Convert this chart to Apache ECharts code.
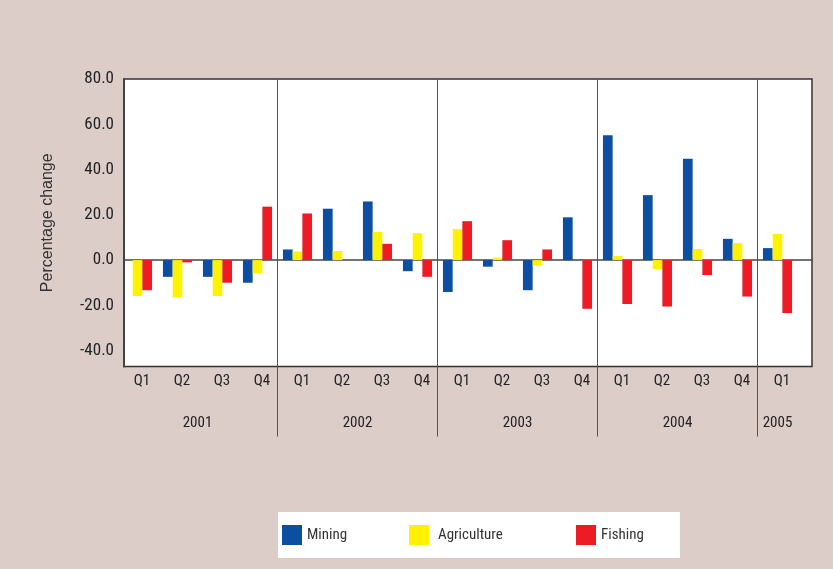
<!DOCTYPE html>
<html>
<head>
<meta charset="utf-8">
<script src="https://cdn.jsdelivr.net/npm/echarts@6/dist/echarts.min.js"></script>
<style>
html,body{margin:0;padding:0;background:#ddcdc9;}
#chart{width:833px;height:569px;}
</style>
</head>
<body>
<div id="chart"></div>
<script>
// ---- data ----
const quarters = ['Q1','Q2','Q3','Q4','Q1','Q2','Q3','Q4','Q1','Q2','Q3','Q4','Q1','Q2','Q3','Q4','Q1'];
const years = ['2001','2002','2003','2004','2005'];
const quartersPerYear = [4,4,4,4,1];
const mining      = [0,-7.4,-7.4,-10.0, 4.7,22.7,25.9,-4.9, -14.1,-2.9,-13.3,18.9, 55.2,28.7,44.8,9.4, 5.3];
const agriculture = [-15.9,-16.5,-15.9,-5.9, 3.8,4.0,12.4,11.9, 13.7,1.0,-2.5,0, 1.8,-4.0,4.9,7.5, 11.6];
const fishing     = [-13.3,-1.0,-10.0,23.6, 20.6,0,7.2,-7.4, 17.2,8.8,4.7,-21.5, -19.4,-20.5,-6.6,-16.1, -23.4];
const yTicks = [-40,-20,0,20,40,60,80];
const yMin = -47, yMax = 80;

// derived positions for year labels and year separators
const yearPos = [], yearSeps = [];
let acc = 0;
quartersPerYear.forEach((n, i) => {
  yearPos.push(acc + n / 2 - 0.5);
  acc += n;
  if (i < quartersPerYear.length - 1) yearSeps.push(acc - 0.5);
});

const narrow = "'Roboto Condensed','Liberation Sans Narrow','Arial Narrow',sans-serif";
const regular = "'Liberation Sans',Arial,sans-serif";

const chart = echarts.init(document.getElementById('chart'), null, {renderer: 'canvas'});
chart.setOption({
  backgroundColor: '#ddcdc9',
  animation: false,
  graphic: [{
    type: 'rect', left: 278, top: 512, z: -1,
    shape: {width: 402, height: 46},
    style: {fill: '#ffffff'}
  }],
  legend: [
    {data: ['Mining'], left: 282, top: 525, padding: 0, itemWidth: 20, itemHeight: 20, icon: 'rect',
     textStyle: {fontFamily: narrow, fontSize: 15, color: '#333'}},
    {data: ['Agriculture'], left: 409, top: 525, padding: 0, itemWidth: 20, itemHeight: 20, icon: 'rect',
     textStyle: {fontFamily: narrow, fontSize: 15, color: '#333', padding: [0,0,0,4]}},
    {data: ['Fishing'], left: 576, top: 525, padding: 0, itemWidth: 20, itemHeight: 20, icon: 'rect',
     textStyle: {fontFamily: narrow, fontSize: 15, color: '#333'}}
  ],
  grid: [
    {left: 124, right: 21, top: 79, bottom: 202.5, show: true, backgroundColor: '#ffffff',
     borderColor: '#333', borderWidth: 1.5},
    {left: 117.5, right: 35.5, top: 79, bottom: 202.5}
  ],
  xAxis: [
    {gridIndex: 0, type: 'value', min: 0, max: 1,
     axisLine: {onZero: true, lineStyle: {color: '#444', width: 1.5}},
     axisTick: {show: false}, axisLabel: {show: false}, splitLine: {show: false}},
    {gridIndex: 1, type: 'category', data: quarters,
     axisLine: {show: false, onZero: false},
     axisTick: {show: false}, splitLine: {show: false},
     axisLabel: {interval: 0, margin: 7, fontFamily: narrow, fontSize: 15, color: '#222', padding: [0,0,0,9]}},
    {gridIndex: 1, type: 'value', position: 'bottom', min: -0.5, max: 16.5, z: 3,
     axisLine: {show: false, onZero: false},
     axisTick: {show: true, customValues: yearSeps, length: 70, lineStyle: {color: '#555', width: 1}},
     splitLine: {show: true, lineStyle: {color: '#555', width: 1}},
     axisLabel: {customValues: yearPos, margin: 49, fontFamily: narrow, fontSize: 15, color: '#222',
       formatter: (v) => years[yearPos.indexOf(v)]}}
  ],
  yAxis: [
    {gridIndex: 0, type: 'value', min: yMin, max: yMax,
     name: 'Percentage change', nameLocation: 'middle', nameRotate: 90, nameGap: 68,
     nameTextStyle: {fontFamily: regular, fontSize: 16, color: '#333'},
     axisLine: {show: true, onZero: false, lineStyle: {color: '#444', width: 2}},
     axisTick: {show: false}, splitLine: {show: false},
     axisLabel: {customValues: yTicks, margin: 10, fontFamily: narrow, fontSize: 17, color: '#222',
       padding: [10,0,0,0], formatter: (v) => v.toFixed(1)}},
    {gridIndex: 1, type: 'value', min: yMin, max: yMax, show: false, splitLine: {show: false}}
  ],
  series: [
    {name: 'Mining', type: 'bar', xAxisIndex: 1, yAxisIndex: 1, data: mining, barWidth: 9.7, barGap: 0,
     itemStyle: {color: '#0b4ea2'}},
    {name: 'Agriculture', type: 'bar', xAxisIndex: 1, yAxisIndex: 1, data: agriculture, barWidth: 9.7, barGap: 0,
     itemStyle: {color: '#fff200'}},
    {name: 'Fishing', type: 'bar', xAxisIndex: 1, yAxisIndex: 1, data: fishing, barWidth: 9.7, barGap: 0,
     itemStyle: {color: '#ed1c24'}}
  ]
});
</script>
</body>
</html>
